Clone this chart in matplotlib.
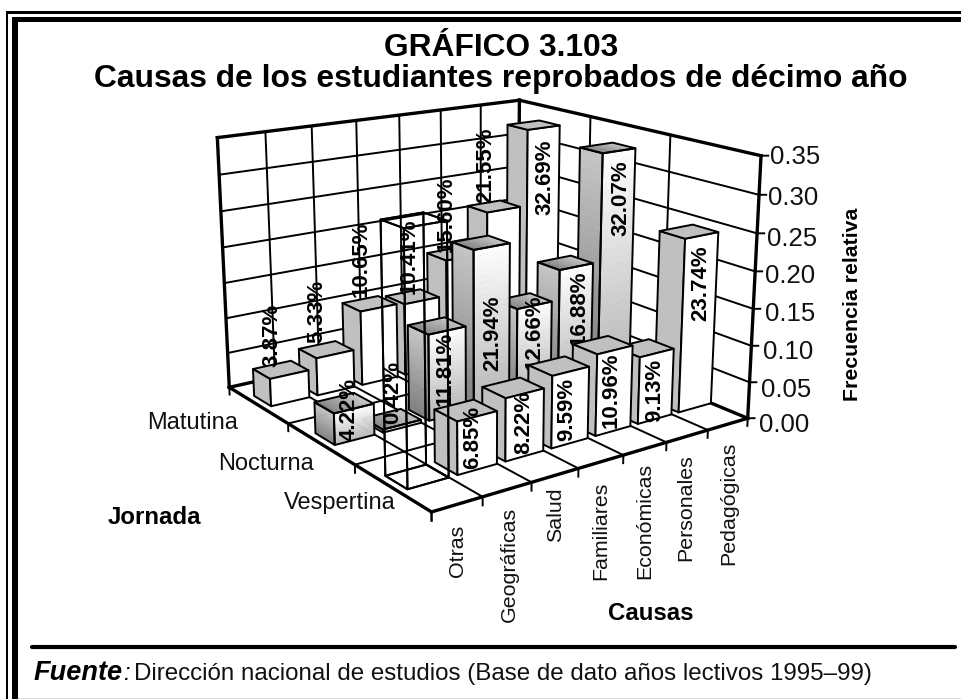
import numpy as np
import matplotlib
matplotlib.use('Agg')
import matplotlib.pyplot as plt
from matplotlib.lines import Line2D
from matplotlib.patches import Rectangle
from matplotlib.transforms import Affine2D
from mpl_toolkits.mplot3d.art3d import Poly3DCollection

plt.rcParams['font.family'] = ['Liberation Sans', 'DejaVu Sans']

# ---------- data ----------
causas = ['Otras', 'Geográficas', 'Salud', 'Familiares', 'Económicas', 'Personales', 'Pedagógicas']
jornadas = ['Vespertina', 'Nocturna', 'Matutina']
matutina = [3.87, 5.33, 10.65, 10.41, 15.60, 21.55, 32.69]
nocturna = [4.22, 0.42, 11.81, 21.94, 12.66, 16.88, 32.07]
vespertina = [31.51, 6.85, 8.22, 9.59, 10.96, 9.13, 23.74]
ticks = [0.00, 0.05, 0.10, 0.15, 0.20, 0.25, 0.30, 0.35]

# ---------- layout (pixel positions of the texts, from the top-left corner) ----------
W, H = 961, 699
label_pos = {
    'Matutina': [(272, 335), (317, 311), (361, 259), (409, 256), (446, 214), (486, 165), (545, 177)],
    'Nocturna': [(349, 409), (393, 392), (445, 369), (493, 333), (534, 332), (579, 308), (621, 198)],
    'Vespertina': [None, (473, 437), (524, 422), (567, 409), (611, 390), (655, 390), (701, 283)],
}
causa_label_pos = [(458, 577), (509, 622), (556, 542), (601, 580), (645, 579), (686, 561), (729, 565)]
jornada_label_pos = [(396, 503), (314, 464), (238, 423)]
tick_label_pos = [(759, 425), (761, 390), (763, 352), (765, 314), (765, 276), (767, 239), (768, 198), (770, 157)]

fig = plt.figure(figsize=(W / 100, H / 100), dpi=100, facecolor='white')
px = Affine2D().scale(1 / W, -1 / H).translate(0, 1) + fig.transFigure

# Camera calibrated to the picture
side = 582.6
ax = fig.add_axes([182.4 / W, 122.4 / H, side / W, side / H], projection='3d')
ax.set_xlim(0, 7)
ax.set_ylim(0, 3)
ax.set_zlim(0, 0.35)
ax.view_init(16.18, -125.62)
ax.set_proj_type('persp', focal_length=0.4968)
ax.set_box_aspect((1, 1.0055, 0.7024))
ax.set_axis_off()
ax.computed_zorder = False
ax.patch.set_alpha(0)

zmax = ticks[-1]
nx, ny = len(causas), len(jornadas)
GRID = dict(color='black', lw=1.4, solid_capstyle='butt', clip_on=False, zorder=1)
EDGE = dict(color='black', lw=2.4, solid_capstyle='projecting', clip_on=False, zorder=2)
NOFILL = (1, 1, 1, 0)


def seg(a, b, **kw):
    ax.plot([a[0], b[0]], [a[1], b[1]], [a[2], b[2]], **kw)


# walls and floor grid
for t in ticks[1:-1]:
    seg((0, ny, t), (nx, ny, t), **GRID)
    seg((nx, 0, t), (nx, ny, t), **GRID)
for i in range(1, nx):
    seg((i, ny, 0), (i, ny, zmax), **GRID)
    seg((i, 0, 0), (i, ny, 0), **GRID)
for j in range(1, ny):
    seg((nx, j, 0), (nx, j, zmax), **GRID)
    seg((0, j, 0), (nx, j, 0), **GRID)
# frame of the box
for a, b in [((0, ny, 0), (0, ny, zmax)), ((nx, ny, 0), (nx, ny, zmax)), ((nx, 0, 0), (nx, 0, zmax)),
             ((0, ny, zmax), (nx, ny, zmax)), ((nx, ny, zmax), (nx, 0, zmax)),
             ((0, ny, 0), (nx, ny, 0)), ((nx, ny, 0), (nx, 0, 0)),
             ((0, ny, 0), (0, 0, 0)), ((0, 0, 0), (nx, 0, 0))]:
    seg(a, b, **EDGE)
# tick marks
for i in range(nx + 1):
    seg((i, 0, 0), (i, 0, -0.012), **GRID)
for j in range(ny + 1):
    seg((0, j, 0), (0, j, -0.012), **GRID)
for t, (x, y) in zip(ticks, tick_label_pos):
    seg((nx, 0, t), (nx + 0.12, -0.034, t), **GRID)
    ax.text2D(x, y, f'{t:.2f}', transform=px, fontsize=18.5, ha='left', va='center', color='#111111',
              clip_on=False, zorder=3)

BX0, BX1 = 0.17, 0.99
BY0, BY1 = 0.41, 0.70


def lerp(c0, c1, t):
    return tuple(np.array(c0) + (np.array(c1) - np.array(c0)) * t)


def add_polys(polys, fc, ec, lw, z):
    coll = Poly3DCollection(polys, facecolors=fc, edgecolors=ec, linewidths=lw, zorder=z)
    ax.add_collection3d(coll, autolim=False)
    coll.set_clip_on(False)


def faces(x0, x1, y0, y1, h):
    front = [(x0, y0, 0), (x1, y0, 0), (x1, y0, h), (x0, y0, h)]
    left = [(x0, y0, 0), (x0, y1, 0), (x0, y1, h), (x0, y0, h)]
    top = [(x0, y0, h), (x1, y0, h), (x1, y1, h), (x0, y1, h)]
    return front, left, top


def plain_bar(x0, x1, y0, y1, h, z):
    f, l, t = faces(x0, x1, y0, y1, h)
    add_polys([l, f, t], ['#C0C0C0', '#FFFFFF', '#C0C0C0'], 'black', 1.4, z)


def gradient_bar(x0, x1, y0, y1, h, z, n=24):
    polys, cols = [], []
    for k in range(n):
        a, b = k / n, (k + 1) / n
        za, zb = h * a, h * b
        polys.append([(x0, y0, za), (x1, y0, za), (x1, y0, zb), (x0, y0, zb)])
        cols.append(lerp((0.72, 0.72, 0.72, 1), (1, 1, 1, 1), a))
        polys.append([(x0, y0, za), (x0, y1, za), (x0, y1, zb), (x0, y0, zb)])
        cols.append(lerp((0.50, 0.50, 0.50, 1), (0.78, 0.78, 0.78, 1), a))
        xa, xb = x0 + (x1 - x0) * a, x0 + (x1 - x0) * b
        polys.append([(xa, y0, h), (xb, y0, h), (xb, y1, h), (xa, y1, h)])
        cols.append(lerp((0.52, 0.52, 0.52, 1), (0.80, 0.80, 0.80, 1), a))
    add_polys(polys, cols, cols, 0.4, z)
    f, l, t = faces(x0, x1, y0, y1, h)
    add_polys([l, f, t], NOFILL, 'black', 1.4, z + 0.1)


def wire_bar(x0, x1, y0, y1, h, z):
    f, l, t = faces(x0, x1, y0, y1, h)
    back = [(x0, y1, 0), (x1, y1, 0), (x1, y1, h), (x0, y1, h)]
    right = [(x1, y0, 0), (x1, y1, 0), (x1, y1, h), (x1, y0, h)]
    bottom = [(x0, y0, 0), (x1, y0, 0), (x1, y1, 0), (x0, y1, 0)]
    add_polys([f, l, t, back, right, bottom], NOFILL, 'black', 1.4, z)


# bars painted from the far corner to the near one
rows = [('Matutina', matutina, 2, plain_bar), ('Nocturna', nocturna, 1, gradient_bar),
        ('Vespertina', vespertina, 0, plain_bar)]
z = 10
for name, vals, j, painter in rows:
    for i in range(nx - 1, -1, -1):
        h = vals[i] / 100
        pos = label_pos[name][i]
        if pos is None:
            wire_bar(i + BX0, i + BX1, j + BY0, j + BY1, h, z)
        else:
            painter(i + BX0, i + BX1, j + BY0, j + BY1, h, z)
            ax.text2D(pos[0], pos[1], f'{vals[i]:.2f}%', transform=px, rotation=90, ha='center', va='center',
                      fontsize=16, fontweight='bold', color='#000000', zorder=z + 0.5, clip_on=False)
        z += 1

# axis category labels
for s, (x, y) in zip(causas, causa_label_pos):
    fig.text(x, y, s, transform=px, rotation=90, ha='center', va='bottom', fontsize=15.4, color='#111111')
for s, (x, y) in zip(jornadas, jornada_label_pos):
    fig.text(x, y, s, transform=px, ha='right', va='center', fontsize=17, color='#111111')

fig.text(154, 517, 'Jornada', transform=px, ha='center', va='center', fontsize=17.3, fontweight='bold')
fig.text(651, 613, 'Causas', transform=px, ha='center', va='center', fontsize=17.3, fontweight='bold')
fig.text(852, 304, 'Frecuencia relativa', transform=px, rotation=90, ha='center', va='center',
         fontsize=15.3, fontweight='bold')

# titles
fig.text(501, 56, 'GRÁFICO 3.103', transform=px, ha='center', va='baseline', fontsize=22.9, fontweight='bold')
fig.text(501, 87, 'Causas de los estudiantes reprobados de décimo año', transform=px, ha='center', va='baseline',
         fontsize=22.9, fontweight='bold')

# source line
fig.text(34, 680, 'Fuente', transform=px, ha='left', va='baseline', fontsize=19.5, fontweight='bold', style='italic')
fig.text(123, 680, ':', transform=px, ha='left', va='baseline', fontsize=17, style='italic')
fig.text(134, 680, 'Dirección nacional de estudios (Base de dato años lectivos 1995–99)', transform=px,
         ha='left', va='baseline', fontsize=17.35, color='#111111')

# page frame
for (x0, y0, w, h) in [(6, 11, 1.7, 688), (6, 11, 955, 3), (12, 17, 5.7, 682), (12, 17, 949, 5)]:
    fig.add_artist(Rectangle((x0, y0), w, h, transform=px, fc='black', ec='none'))
fig.add_artist(Rectangle((18, 697.5), 943, 1.5, transform=px, fc='#DDDDDD', ec='none'))
fig.add_artist(Line2D([32, 955], [647, 647], transform=px, color='black', lw=3.0, solid_capstyle='round'))

fig.savefig('out.png', dpi=100)
